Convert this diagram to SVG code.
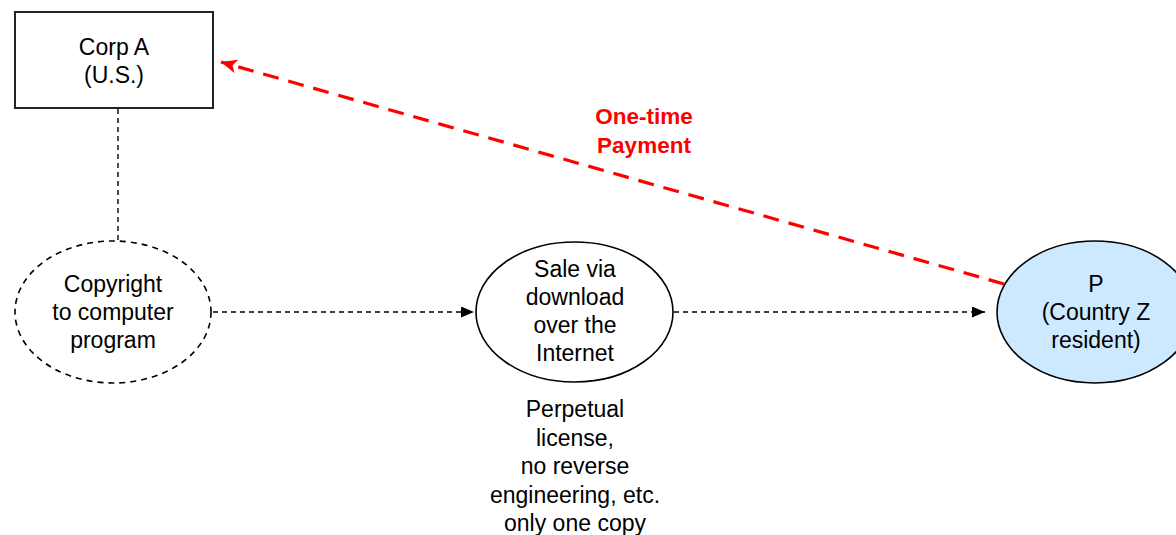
<svg xmlns="http://www.w3.org/2000/svg" width="1176" height="535" viewBox="0 0 1176 535">
<style>
text{font-family:"Liberation Sans",Arial,sans-serif;font-size:23px;fill:#000;text-anchor:middle}
.red{fill:#ff0000;font-weight:bold;font-size:22.5px}
.conn{fill:none;stroke:#000;stroke-width:1.4;stroke-dasharray:5 4}
.shape{stroke:#000;stroke-width:1.6}
</style>
<defs>
<marker id="ab" viewBox="0 0 13 11" refX="13" refY="5.5" markerWidth="13" markerHeight="11" markerUnits="userSpaceOnUse" orient="auto">
<path d="M0,0 L13,5.5 L0,11 Z" fill="#000"/>
</marker>
<marker id="ar" viewBox="0 0 16 14" refX="16" refY="7" markerWidth="16" markerHeight="14" markerUnits="userSpaceOnUse" orient="auto">
<path d="M0,0 L16,7 L0,14 L4,7 Z" fill="#ff0000"/>
</marker>
</defs>
<rect width="1176" height="535" fill="#fff"/>
<g id="connectors">
<line class="conn" x1="118" y1="109" x2="118" y2="241"/>
<line class="conn" x1="213" y1="312" x2="474" y2="312" marker-end="url(#ab)"/>
<line class="conn" x1="674" y1="312" x2="985" y2="312" marker-end="url(#ab)"/>
<line x1="1004" y1="284" x2="221" y2="62" stroke="#ff0000" stroke-width="3.2" stroke-dasharray="16 10" marker-end="url(#ar)"/>
</g>
<g id="corpA">
<rect x="15" y="12" width="198" height="96" fill="#fff" stroke="#222" stroke-width="2"/>
<text x="114" y="55">Corp A</text>
<text x="114" y="83">(U.S.)</text>
</g>
<g id="copyright">
<ellipse cx="113" cy="312" rx="98" ry="71" fill="#fff" class="shape" stroke-dasharray="6 5" stroke-width="1.4"/>
<text x="113" y="292">Copyright</text>
<text x="113" y="320">to computer</text>
<text x="113" y="348">program</text>
</g>
<g id="sale">
<ellipse cx="574.5" cy="312" rx="98.5" ry="70" fill="#fff" class="shape"/>
<text x="575" y="277">Sale via</text>
<text x="575" y="305">download</text>
<text x="575" y="333">over the</text>
<text x="575" y="361">Internet</text>
</g>
<g id="p">
<ellipse cx="1095" cy="312" rx="98" ry="71" fill="#cce9ff" class="shape"/>
<text x="1096" y="292">P</text>
<text x="1096" y="320">(Country Z</text>
<text x="1096" y="348">resident)</text>
</g>
<g id="payment">
<text class="red" x="644" y="124">One-time</text>
<text class="red" x="644" y="153">Payment</text>
</g>
<g id="license">
<text x="575" y="417">Perpetual</text>
<text x="575" y="445.5">license,</text>
<text x="575" y="474">no reverse</text>
<text x="575" y="502.5">engineering, etc.</text>
<text x="575" y="531">only one copy</text>
</g>
</svg>
